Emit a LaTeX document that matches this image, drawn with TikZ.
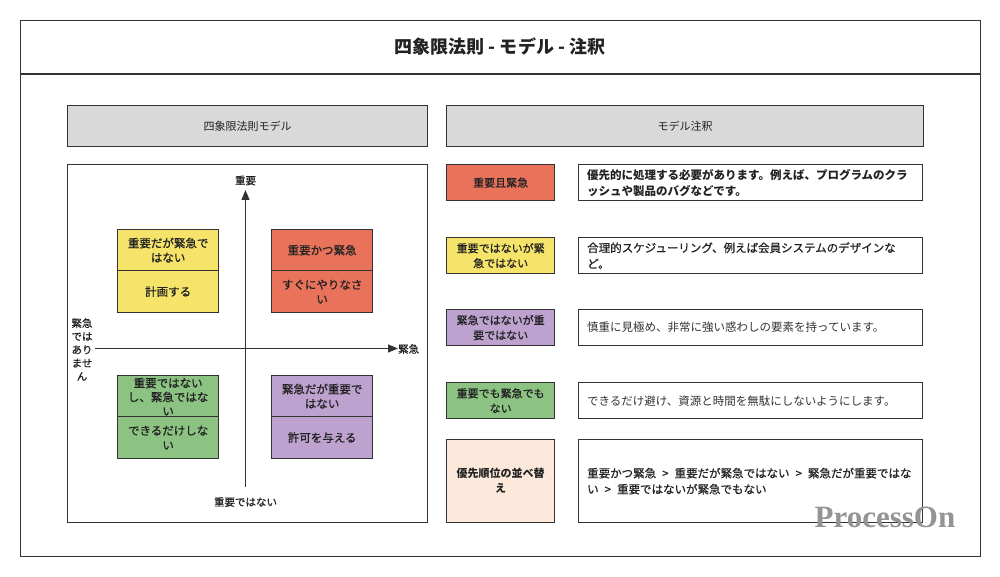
\documentclass[tikz,border=0pt]{standalone}
\usepackage{fontspec}
\setmainfont{Noto Sans CJK JP}
\newfontfamily\medfont{Noto Sans CJK JP}[FakeBold=0.7]
\newfontfamily\wmfont{Liberation Serif}
\usetikzlibrary{arrows.meta}
\definecolor{bordc}{HTML}{333333}
\definecolor{qred}{HTML}{E8735A}
\definecolor{qyel}{HTML}{F5E36A}
\definecolor{qpur}{HTML}{BDA2D0}
\definecolor{qgrn}{HTML}{8CC383}
\definecolor{qpea}{HTML}{FCE9DB}
\definecolor{hdr}{HTML}{D9D9D9}
\definecolor{txtc}{HTML}{222222}
\newcommand{\gtsep}{\hspace{6pt}>\hspace{6pt}}
\begin{document}
\begin{tikzpicture}[x=1pt,y=-1pt,
  box/.style={draw=bordc, line width=1.3pt, inner sep=0pt, anchor=north west},
  qtxt/.style={font=\medfont\fontsize{11.5}{14.5}\selectfont, align=center, text=txtc},
  ltxt/.style={font=\medfont\fontsize{11}{15}\selectfont, align=center, text=txtc},
  dtxt/.style={font=\fontsize{11.5}{16}\selectfont, align=left, anchor=west, inner sep=0pt, text=txtc},
  axis/.style={draw=bordc, line width=1.3pt, -{Triangle[length=10pt,width=8pt]}},
  albl/.style={font=\medfont\fontsize{10.5}{13.5}\selectfont, text=txtc, align=center, inner sep=0pt}
]
\useasboundingbox[fill=white] (0,0) rectangle (1000,577);
% outer frame
\node[box, minimum width=960pt, minimum height=536pt] (frame) at (20,20) {};
\draw[bordc, line width=1.3pt] (20,74) -- (980,74);
\node[font=\bfseries\fontsize{18}{21}\selectfont, text=txtc] (title) at (500,47) {四象限法則 - モデル - 注釈};
% headers
\node[box, fill=hdr, minimum width=360pt, minimum height=41pt] (hl) at (67,105) {};
\node[font=\fontsize{11}{13}\selectfont, text=txtc] (hlt) at (hl.center) {四象限法則モデル};
\node[box, fill=hdr, minimum width=477pt, minimum height=41pt] (hr) at (446,105) {};
\node[font=\fontsize{11}{13}\selectfont, text=txtc] (hrt) at (hr.center) {モデル注釈};
% quadrant frame
\node[box, minimum width=360pt, minimum height=358pt] (qf) at (67,164) {};
% axes
\coordinate (vb) at (245.5,487);
\coordinate (vt) at (245.5,190);
\coordinate (hlft) at (95,348.5);
\coordinate (hrgt) at (398,348.5);
\draw[axis] (vb) -- (vt);
\draw[axis] (hlft) -- (hrgt);
\node[albl] (lt) at (245.5,180.5) {重要};
\node[albl] (lb) at (245.5,502) {重要ではない};
\node[albl, anchor=west] (lr) at (398,349) {緊急};
\node[albl, font=\medfont\fontsize{10.5}{13.3}\selectfont] (ll) at (82,349.5) {緊急\\では\\あり\\ませ\\ん};
% quadrant boxes
\node[box, fill=qyel, minimum width=101pt, minimum height=41pt] (yt) at (117,229) {};
\node[box, fill=qyel, minimum width=101pt, minimum height=42pt] (yb) at (117,270) {};
\node[qtxt] at (yt.center) {重要だが緊急で\\はない};
\node[qtxt] at (yb.center) {計画する};
\node[box, fill=qred, minimum width=101pt, minimum height=41pt] (rt) at (271,229) {};
\node[box, fill=qred, minimum width=101pt, minimum height=42pt] (rb) at (271,270) {};
\node[qtxt] at (rt.center) {重要かつ緊急};
\node[qtxt] at (rb.center) {すぐにやりなさ\\い};
\node[box, fill=qgrn, minimum width=101pt, minimum height=41pt] (gt) at (117,375) {};
\node[box, fill=qgrn, minimum width=101pt, minimum height=42pt] (gb) at (117,416) {};
\node[qtxt, font=\medfont\fontsize{11.5}{14}\selectfont] at ([yshift=-0.5pt]gt.center) {重要ではない\\し、緊急ではな\\い};
\node[qtxt] at (gb.center) {できるだけしな\\い};
\node[box, fill=qpur, minimum width=101pt, minimum height=41pt] (pt) at (271,375) {};
\node[box, fill=qpur, minimum width=101pt, minimum height=42pt] (pb) at (271,416) {};
\node[qtxt] at (pt.center) {緊急だが重要で\\はない};
\node[qtxt] at (pb.center) {許可を与える};
% annotation rows
\node[box, fill=qred, minimum width=108pt, minimum height=36pt] (l1) at (446,164) {};
\node[ltxt] at (l1.center) {重要且緊急};
\node[box, minimum width=344pt, minimum height=36pt] (d1) at (578,164) {};
\node[dtxt, font=\bfseries\fontsize{11.5}{16}\selectfont] at ([xshift=9pt]d1.west) {優先的に処理する必要があります。例えば、プログラムのクラ\\ッシュや製品のバグなどです。};
\node[box, fill=qyel, minimum width=108pt, minimum height=36pt] (l2) at (446,237) {};
\node[ltxt] at (l2.center) {重要ではないが緊\\急ではない};
\node[box, minimum width=344pt, minimum height=36pt] (d2) at (578,237) {};
\node[dtxt, font=\medfont\fontsize{11.5}{16}\selectfont] at ([xshift=9pt]d2.west) {合理的スケジューリング、例えば会員システムのデザインな\\ど。};
\node[box, fill=qpur, minimum width=108pt, minimum height=36pt] (l3) at (446,309) {};
\node[ltxt] at (l3.center) {緊急ではないが重\\要ではない};
\node[box, minimum width=344pt, minimum height=36pt] (d3) at (578,309) {};
\node[dtxt, text=bordc] at ([xshift=9pt]d3.west) {慎重に見極め、非常に強い惑わしの要素を持っています。};
\node[box, fill=qgrn, minimum width=108pt, minimum height=36pt] (l4) at (446,382) {};
\node[ltxt] at (l4.center) {重要でも緊急でも\\ない};
\node[box, minimum width=344pt, minimum height=36pt] (d4) at (578,382) {};
\node[dtxt, text=bordc] at ([xshift=9pt]d4.west) {できるだけ避け、資源と時間を無駄にしないようにします。};
\node[box, fill=qpea, minimum width=108pt, minimum height=83pt] (l5) at (446,439) {};
\node[ltxt, font=\bfseries\fontsize{11}{15}\selectfont] at (l5.center) {優先順位の並べ替\\え};
\node[box, minimum width=344pt, minimum height=83pt] (d5) at (578,439) {};
\node[dtxt, font=\medfont\fontsize{11.5}{16}\selectfont] at ([xshift=9pt]d5.west) {重要かつ緊急\gtsep 重要だが緊急ではない\gtsep 緊急だが重要ではな\\い\gtsep 重要ではないが緊急でもない};
% watermark
\node[font=\wmfont\bfseries\fontsize{31}{32}\selectfont, text=black!42] (wm) at (885,517) {ProcessOn};
\end{tikzpicture}
\end{document}
